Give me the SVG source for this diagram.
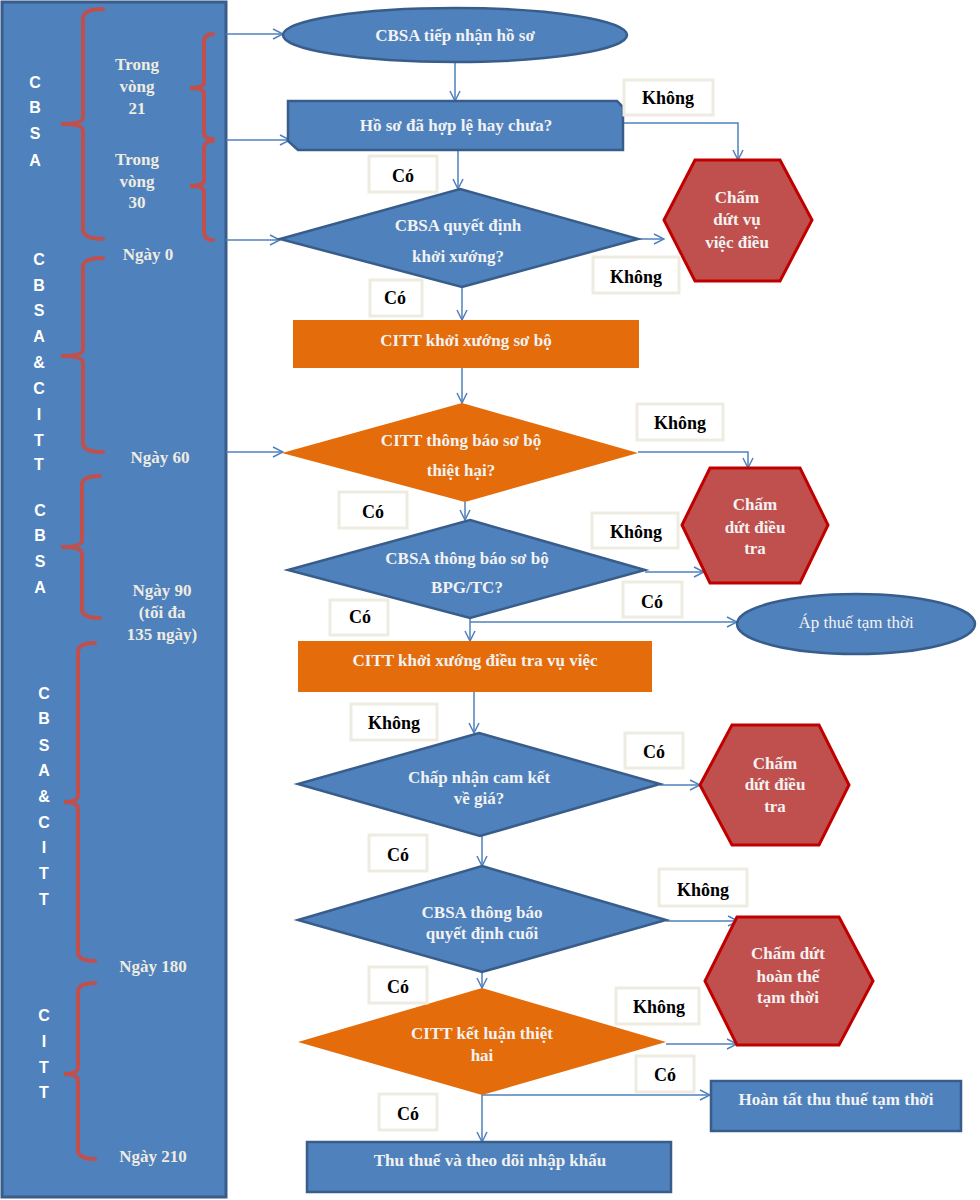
<svg xmlns="http://www.w3.org/2000/svg" width="980" height="1200" viewBox="0 0 980 1200">
<style>
.blue{fill:#4F81BD;stroke:#385D8A;stroke-width:2.5}
.orange{fill:#E46C0A;stroke:none}
.hex{fill:#C0504D;stroke:#C00000;stroke-width:3}
.nt{font-family:"Liberation Serif",serif;font-weight:bold;font-size:17px;fill:#F2F2F2;text-anchor:middle}
.nr{font-family:"Liberation Serif",serif;font-size:17px;fill:#F2F2F2;text-anchor:middle}
.lb{fill:#FFFFFF;stroke:#EEECE1;stroke-width:3}
.lt{font-family:"Liberation Serif",serif;font-weight:bold;font-size:18px;fill:#000000;text-anchor:middle}
.br{fill:none;stroke:#C0504D;stroke-width:4;stroke-linecap:round}
.vl{font-family:"Liberation Sans",sans-serif;font-weight:bold;font-size:16px;fill:#FFFFFF;text-anchor:middle}
.dl{font-family:"Liberation Serif",serif;font-weight:bold;font-size:17px;fill:#EEECE1;text-anchor:middle}
.cn{fill:none;stroke:#4F81BD;stroke-width:1.5}
</style>
<defs>
<marker id="arr" viewBox="0 0 12 12" refX="11" refY="6" markerWidth="12" markerHeight="12" markerUnits="userSpaceOnUse" orient="auto">
<path d="M1,1 L11,6 L1,11" fill="none" stroke="#4F81BD" stroke-width="1.5"/>
</marker>
</defs>

<g id="timeline">
<rect x="2" y="2" width="224" height="1195" fill="#4F81BD" stroke="#385D8A" stroke-width="3"/>
<path class="br" d="M103,9 Q84,9 83,18 L83,118 Q82,124 61,124 Q82,124 83,130 L83,230 Q84,239 103,239"/>
<path class="br" d="M213,34 Q204,34 204,42 L204,83 Q203,88 190,88 Q203,88 204,93 L204,134 Q205,139 213,139"/>
<path class="br" d="M213,141 Q205,141 204,147 L204,181 Q203,186 190,186 Q203,186 204,191 L204,233 Q205,240 213,240"/>
<path class="br" d="M103,258 Q84,258 83,266 L83,350 Q82,356 61,356 Q82,356 83,362 L83,444 Q84,452 103,452"/>
<path class="br" d="M100,476 Q83,476 82,484 L82,541 Q81,547 61,547 Q81,547 82,553 L82,610 Q83,618 100,618"/>
<path class="br" d="M95,643 Q79,643 78,651 L78,796 Q77,802 64,802 Q77,802 78,808 L78,953 Q79,961 95,961"/>
<path class="br" d="M95,983 Q79,983 78,991 L78,1068 Q77,1074 64,1074 Q77,1074 78,1080 L78,1151 Q79,1159 95,1159"/>
<text class="vl" x="35" y="88">C</text>
<text class="vl" x="35" y="113">B</text>
<text class="vl" x="35" y="139">S</text>
<text class="vl" x="35" y="166">A</text>
<text class="dl" x="137" y="70">Trong</text>
<text class="dl" x="137" y="92">vòng</text>
<text class="dl" x="137" y="114">21</text>
<text class="dl" x="137" y="165">Trong</text>
<text class="dl" x="137" y="187">vòng</text>
<text class="dl" x="137" y="208">30</text>
<text class="dl" x="148" y="260">Ngày 0</text>
<text class="vl" x="39" y="265">C</text>
<text class="vl" x="39" y="291">B</text>
<text class="vl" x="39" y="316">S</text>
<text class="vl" x="39" y="342">A</text>
<text class="vl" x="39" y="368">&amp;</text>
<text class="vl" x="39" y="394">C</text>
<text class="vl" x="39" y="420">I</text>
<text class="vl" x="39" y="446">T</text>
<text class="vl" x="39" y="470">T</text>
<text class="dl" x="160" y="463">Ngày 60</text>
<text class="vl" x="40" y="516">C</text>
<text class="vl" x="40" y="541">B</text>
<text class="vl" x="40" y="567">S</text>
<text class="vl" x="40" y="593">A</text>
<text class="dl" x="162" y="596">Ngày 90</text>
<text class="dl" x="162" y="618">(tối đa</text>
<text class="dl" x="162" y="640">135 ngày)</text>
<text class="vl" x="44" y="699">C</text>
<text class="vl" x="44" y="724">B</text>
<text class="vl" x="44" y="751">S</text>
<text class="vl" x="44" y="776">A</text>
<text class="vl" x="44" y="802">&amp;</text>
<text class="vl" x="44" y="828">C</text>
<text class="vl" x="44" y="853">I</text>
<text class="vl" x="44" y="879">T</text>
<text class="vl" x="44" y="905">T</text>
<text class="dl" x="153" y="972">Ngày 180</text>
<text class="vl" x="44" y="1021">C</text>
<text class="vl" x="44" y="1047">I</text>
<text class="vl" x="44" y="1073">T</text>
<text class="vl" x="44" y="1098">T</text>
<text class="dl" x="153" y="1162">Ngày 210</text>
</g>

<g id="connectors">
<line class="cn" x1="226" y1="34" x2="283" y2="34" marker-end="url(#arr)"/>
<line class="cn" x1="226" y1="140" x2="290" y2="140" marker-end="url(#arr)"/>
<line class="cn" x1="226" y1="240" x2="280" y2="240" marker-end="url(#arr)"/>
<line class="cn" x1="226" y1="452" x2="283" y2="452" marker-end="url(#arr)"/>
<line class="cn" x1="455" y1="63" x2="455" y2="101" marker-end="url(#arr)"/>
<polyline class="cn" points="623,123 738,123 738,160" marker-end="url(#arr)"/>
<line class="cn" x1="458" y1="150" x2="458" y2="189" marker-end="url(#arr)"/>
<line class="cn" x1="638" y1="239" x2="664" y2="239" marker-end="url(#arr)"/>
<line class="cn" x1="462" y1="287" x2="462" y2="320" marker-end="url(#arr)"/>
<line class="cn" x1="462" y1="368" x2="462" y2="403" marker-end="url(#arr)"/>
<polyline class="cn" points="638,452 748,452 748,468" marker-end="url(#arr)"/>
<line class="cn" x1="465" y1="502" x2="465" y2="520" marker-end="url(#arr)"/>
<line class="cn" x1="645" y1="572" x2="704" y2="572" marker-end="url(#arr)"/>
<line class="cn" x1="470" y1="618" x2="470" y2="641" marker-end="url(#arr)"/>
<line class="cn" x1="470" y1="622" x2="737" y2="622" marker-end="url(#arr)"/>
<line class="cn" x1="474" y1="692" x2="474" y2="733" marker-end="url(#arr)"/>
<line class="cn" x1="660" y1="785" x2="700" y2="785" marker-end="url(#arr)"/>
<line class="cn" x1="482" y1="836" x2="482" y2="866" marker-end="url(#arr)"/>
<line class="cn" x1="666" y1="921" x2="738" y2="921" marker-end="url(#arr)"/>
<line class="cn" x1="482" y1="972" x2="482" y2="988" marker-end="url(#arr)"/>
<line class="cn" x1="666" y1="1044" x2="737" y2="1044" marker-end="url(#arr)"/>
<line class="cn" x1="482" y1="1095" x2="710" y2="1095" marker-end="url(#arr)"/>
<line class="cn" x1="482" y1="1095" x2="482" y2="1142" marker-end="url(#arr)"/>
</g>

<g id="n1"><ellipse class="blue" cx="455" cy="35" rx="172" ry="27"/><text class="nt" x="455" y="41">CBSA tiếp nhận hồ sơ</text></g>
<g id="n2"><polygon class="blue" points="288,101 617,101 623,107 623,150 298,150 288,141"/><text class="nt" x="456" y="131">Hồ sơ đã hợp lệ hay chưa?</text></g>
<g id="n3"><polygon class="blue" points="460,189 638,239 462,287 280,239"/><text class="nt" x="458" y="231">CBSA quyết định</text><text class="nt" x="458" y="262">khởi xướng?</text></g>
<g id="n4"><polygon class="hex" points="695,160 780,160 812,220 780,281 695,281 664,220"/><text class="nt" x="737" y="203">Chấm</text><text class="nt" x="737" y="225">dứt vụ</text><text class="nt" x="737" y="248">việc điều</text></g>
<g id="n5"><rect class="orange" x="293" y="320" width="346" height="48"/><text class="nt" x="466" y="346">CITT khởi xướng sơ bộ</text></g>
<g id="n6"><polygon class="orange" points="462,403 638,453 465,502 282,453"/><text class="nt" x="461" y="446">CITT thông báo sơ bộ</text><text class="nt" x="461" y="476">thiệt hại?</text></g>
<g id="n7"><polygon class="hex" points="710,468 800,468 828,525 800,583 710,583 682,525"/><text class="nt" x="755" y="510">Chấm</text><text class="nt" x="755" y="533">dứt điều</text><text class="nt" x="755" y="554">tra</text></g>
<g id="n8"><polygon class="blue" points="470,520 645,570 470,618 288,570"/><text class="nt" x="467" y="564">CBSA thông báo sơ bộ</text><text class="nt" x="467" y="593">BPG/TC?</text></g>
<g id="n9"><ellipse class="blue" cx="856" cy="624" rx="119" ry="30"/><text class="nr" x="856" y="628">Áp thuế tạm thời</text></g>
<g id="n10"><rect class="orange" x="298" y="641" width="354" height="51"/><text class="nt" x="475" y="666">CITT khởi xướng điều tra vụ việc</text></g>
<g id="n11"><polygon class="blue" points="479,733 660,784 480,836 298,784"/><text class="nt" x="479" y="783">Chấp nhận cam kết</text><text class="nt" x="479" y="804">về giá?</text></g>
<g id="n12"><polygon class="hex" points="732,725 819,725 849,785 819,845 732,845 700,785"/><text class="nt" x="775" y="769">Chấm</text><text class="nt" x="775" y="790">dứt điều</text><text class="nt" x="775" y="812">tra</text></g>
<g id="n13"><polygon class="blue" points="482,866 666,920 482,972 298,920"/><text class="nt" x="482" y="918">CBSA thông báo</text><text class="nt" x="482" y="939">quyết định cuối</text></g>
<g id="n14"><polygon class="hex" points="737,917 839,917 873,981 839,1045 737,1045 705,981"/><text class="nt" x="788" y="959">Chấm dứt</text><text class="nt" x="788" y="982">hoàn thế</text><text class="nt" x="788" y="1003">tạm thời</text></g>
<g id="n15"><polygon class="orange" points="482,988 666,1042 482,1095 298,1042"/><text class="nt" x="482" y="1039">CITT kết luận thiệt</text><text class="nt" x="482" y="1061">hai</text></g>
<g id="n16"><rect class="blue" x="711" y="1081" width="250" height="50" stroke-width="3"/><text class="nt" x="836" y="1105">Hoàn tất thu thuế tạm thời</text></g>
<g id="n17"><rect class="blue" x="307" y="1142" width="364" height="50" stroke-width="3"/><text class="nt" x="490" y="1166">Thu thuế và theo dõi nhập khẩu</text></g>

<g id="labels">
<rect class="lb" x="624" y="80" width="89" height="35"/><text class="lt" x="668" y="104">Không</text>
<rect class="lb" x="369" y="156" width="68" height="36"/><text class="lt" x="403" y="182">Có</text>
<rect class="lb" x="593" y="257" width="86" height="36"/><text class="lt" x="636" y="283">Không</text>
<rect class="lb" x="370" y="280" width="52" height="36"/><text class="lt" x="395" y="304">Có</text>
<rect class="lb" x="637" y="404" width="86" height="36"/><text class="lt" x="680" y="429">Không</text>
<rect class="lb" x="339" y="492" width="68" height="36"/><text class="lt" x="373" y="518">Có</text>
<rect class="lb" x="592" y="513" width="86" height="35"/><text class="lt" x="636" y="538">Không</text>
<rect class="lb" x="623" y="582" width="59" height="35"/><text class="lt" x="652" y="608">Có</text>
<rect class="lb" x="330" y="600" width="58" height="35"/><text class="lt" x="360" y="623">Có</text>
<rect class="lb" x="351" y="704" width="86" height="36"/><text class="lt" x="394" y="729">Không</text>
<rect class="lb" x="625" y="733" width="58" height="35"/><text class="lt" x="654" y="758">Có</text>
<rect class="lb" x="369" y="835" width="58" height="36"/><text class="lt" x="398" y="861">Có</text>
<rect class="lb" x="659" y="869" width="88" height="37"/><text class="lt" x="703" y="896">Không</text>
<rect class="lb" x="369" y="967" width="58" height="36"/><text class="lt" x="398" y="993">Có</text>
<rect class="lb" x="616" y="988" width="83" height="36"/><text class="lt" x="659" y="1013">Không</text>
<rect class="lb" x="636" y="1056" width="58" height="36"/><text class="lt" x="665" y="1081">Có</text>
<rect class="lb" x="379" y="1094" width="58" height="36"/><text class="lt" x="408" y="1120">Có</text>
</g>
</svg>
